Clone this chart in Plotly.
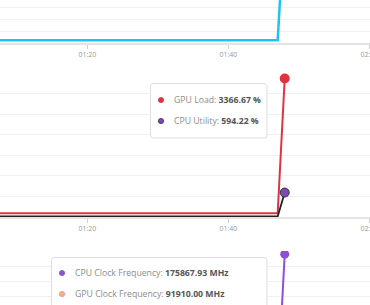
import plotly.graph_objects as go

W, H = 370, 305

day = "2024-01-01 00:"
times = ["01:00", "01:05", "01:10", "01:15", "01:20", "01:25", "01:30",
         "01:35", "01:40", "01:45", "01:46", "01:47", "01:48"]

net_usage = [12, 12, 12, 12, 12, 12, 12, 12, 12, 12, 12, 12, 520]
gpu_load = [90, 90, 90, 90, 90, 90, 90, 90, 90, 90, 90, 90, 3366.67]
cpu_util = [12, 11, 13, 12, 10, 12, 11, 13, 12, 11, 12, 12, 594.22]
cpu_clock = [3000, 3000, 3000, 3000, 3000, 3000, 3000, 3000, 3000, 3000, 3000, 3000, 175867.93]
gpu_clock = [1500, 1500, 1500, 1500, 1500, 1500, 1500, 1500, 1500, 1500, 1500, 1500, 91910.00]

t = [day + s for s in times]

C_CYAN = "#1fc3f2"
C_RED = "#dc3540"
C_BLACK = "#222222"
C_CPUU = "#7e48b8"
C_CPUC = "#8f4fd8"
C_GPUC = "#f4b183"

fig = go.Figure()

# panel 1
fig.add_trace(go.Scatter(x=t, y=net_usage, mode="lines", line=dict(color=C_CYAN, width=2.5),
                         xaxis="x", yaxis="y", name="Usage"))
# panel 2
fig.add_trace(go.Scatter(x=t, y=gpu_load, mode="lines", line=dict(color=C_RED, width=2),
                         xaxis="x2", yaxis="y2", name="GPU Load"))
fig.add_trace(go.Scatter(x=t, y=cpu_util, mode="lines", line=dict(color=C_BLACK, width=1.8),
                         xaxis="x2", yaxis="y2", name="CPU Utility"))
fig.add_trace(go.Scatter(x=[t[-1]], y=[gpu_load[-1]], mode="markers",
                         marker=dict(color=C_RED, size=10), xaxis="x2", yaxis="y2"))
fig.add_trace(go.Scatter(x=[t[-1]], y=[cpu_util[-1]], mode="markers",
                         marker=dict(color=C_CPUU, size=9, line=dict(color="#333", width=1)),
                         xaxis="x2", yaxis="y2"))
# panel 3
fig.add_trace(go.Scatter(x=t, y=gpu_clock, mode="lines", line=dict(color=C_GPUC, width=2),
                         xaxis="x3", yaxis="y3", name="GPU Clock Frequency"))
fig.add_trace(go.Scatter(x=t, y=cpu_clock, mode="lines", line=dict(color=C_CPUC, width=2),
                         xaxis="x3", yaxis="y3", name="CPU Clock Frequency"))
fig.add_trace(go.Scatter(x=[t[-1]], y=[cpu_clock[-1]], mode="markers",
                         marker=dict(color=C_CPUC, size=9), xaxis="x3", yaxis="y3"))


def dom(top_px, bot_px):
    return [1 - bot_px / H, 1 - top_px / H]


xr = [day + "01:07.60", day + "02:00.10"]
xcommon = dict(type="date", range=xr, tickformat="%M:%S", dtick=20000, automargin=False,
               tick0=day + "01:00", showgrid=False, showline=True, linecolor="#e3e3e3",
               linewidth=1.5, ticks="outside", ticklen=4, tickcolor="#cfcfcf",
               ticklabeloverflow="allow",
               tickfont=dict(size=7, color="#9a9a9a", family="Open Sans"), zeroline=False)
ycommon = dict(showticklabels=False, showgrid=True, gridcolor="#f0f0f0", gridwidth=1,
               zeroline=False, showline=False, ticks="", automargin=False)

fig.update_layout(
    width=W, height=H, margin=dict(l=0, r=0, t=0, b=0, pad=0), autosize=False,
    paper_bgcolor="white", plot_bgcolor="white", showlegend=False, hovermode=False,
    font=dict(family="Open Sans"),
    xaxis=dict(**xcommon, anchor="y", domain=[0, 1]),
    xaxis2=dict(**xcommon, anchor="y2", domain=[0, 1]),
    xaxis3=dict(**{**xcommon, "showticklabels": False, "ticks": ""}, anchor="y3", domain=[0, 1]),
    yaxis=dict(**ycommon, anchor="x", domain=dom(0, 43), range=[0, 180], tick0=0, dtick=50),
    yaxis2=dict(**ycommon, anchor="x2", domain=dom(73, 217), range=[0, 3500], tick0=0, dtick=500),
    yaxis3=dict(**ycommon, anchor="x3", domain=dom(251, 305), range=[109400, 180000], tick0=0, dtick=20000),
)


def P(x, y):
    return x / W, 1 - y / H


def rounded_rect(x0, y0, x1, y1, r=3):
    def p(x, y):
        a, b = P(x, y)
        return f"{a:.5f},{b:.5f}"
    path = (f"M{p(x0 + r, y0)} L{p(x1 - r, y0)} Q{p(x1, y0)} {p(x1, y0 + r)} "
            f"L{p(x1, y1 - r)} Q{p(x1, y1)} {p(x1 - r, y1)} L{p(x0 + r, y1)} "
            f"Q{p(x0, y1)} {p(x0, y1 - r)} L{p(x0, y0 + r)} Q{p(x0, y0)} {p(x0 + r, y0)} Z")
    return path


def tooltip(box, rows):
    x0, y0, x1, y1 = box
    fig.add_shape(type="path", path=rounded_rect(x0, y0, x1, y1), xref="paper", yref="paper",
                  fillcolor="white", line=dict(color="#dedede", width=1), layer="above")
    for (dx, dy, color, outline, label, value) in rows:
        r = 2.6
        a0, b0 = P(dx - r, dy + r)
        a1, b1 = P(dx + r, dy - r)
        fig.add_shape(type="circle", xref="paper", yref="paper", x0=a0, y0=b0, x1=a1, y1=b1,
                      fillcolor=color, line=dict(color=outline, width=0.8), layer="above")
        tx, ty = P(dx + 10.5, dy)
        fig.add_annotation(xref="paper", yref="paper", x=tx, y=ty, xanchor="left", yanchor="middle",
                           showarrow=False, align="left",
                           text=f"{label}: <b><span style='color:#555555'>{value}</span></b>",
                           font=dict(size=8.7, color="#8c8c8c", family="Open Sans"))


tooltip((150.5, 83.5, 267, 138), [
    (161, 100, C_RED, C_RED, "GPU Load", f"{gpu_load[-1]:.2f} %"),
    (161, 121, C_CPUU, "#333333", "CPU Utility", f"{cpu_util[-1]:.2f} %"),
])
tooltip((51.5, 257.5, 267, 330), [
    (62, 273, C_CPUC, C_CPUC, "CPU Clock Frequency", f"{cpu_clock[-1]:.2f} MHz"),
    (62, 294, C_GPUC, "#f08f8f", "GPU Clock Frequency", f"{gpu_clock[-1]:.2f} MHz"),
])

fig.write_html("out.html")
